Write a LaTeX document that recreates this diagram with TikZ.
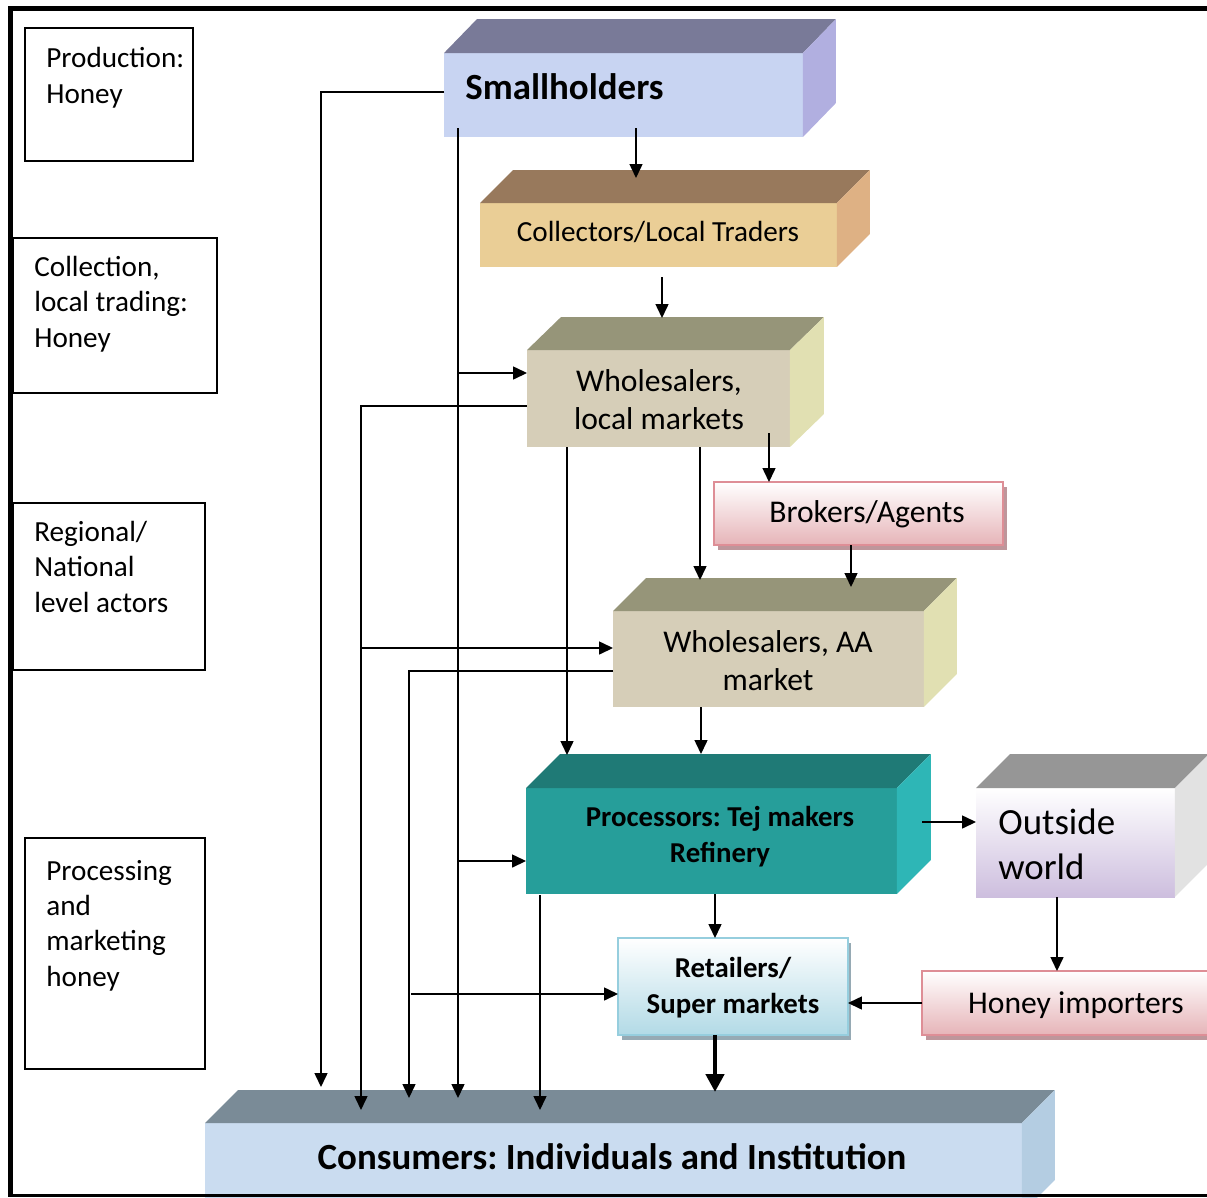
\documentclass[tikz,border=0pt]{standalone}
\usepackage{fontspec}
\setmainfont{Carlito}
\usetikzlibrary{arrows.meta,calc}
\frenchspacing

\definecolor{shFront}{RGB}{200,212,242}
\definecolor{shTop}{RGB}{121,122,152}
\definecolor{shSide}{RGB}{177,175,224}
\definecolor{clFront}{RGB}{234,206,150}
\definecolor{clTop}{RGB}{152,121,92}
\definecolor{clSide}{RGB}{222,177,132}
\definecolor{wsFront}{RGB}{214,206,184}
\definecolor{wsTop}{RGB}{150,149,121}
\definecolor{wsSide}{RGB}{225,224,178}
\definecolor{prFront}{RGB}{38,158,154}
\definecolor{prTop}{RGB}{31,122,118}
\definecolor{prSide}{RGB}{46,182,182}
\definecolor{owFront}{RGB}{205,190,222}
\definecolor{owTop}{RGB}{150,150,150}
\definecolor{owSide}{RGB}{226,226,226}
\definecolor{coFront}{RGB}{202,220,240}
\definecolor{coTop}{RGB}{122,139,151}
\definecolor{coSide}{RGB}{180,205,226}
\definecolor{pinkBot}{RGB}{230,180,184}
\definecolor{pinkLine}{RGB}{222,142,150}
\definecolor{pinkShade}{RGB}{190,150,155}
\definecolor{blueBot}{RGB}{178,218,230}
\definecolor{blueLine}{RGB}{150,206,222}
\definecolor{blueShade}{RGB}{150,170,180}

\begin{document}
\frenchspacing
\begin{tikzpicture}[x=0.02cm, y=-0.02cm,
	face/.style={inner sep=0pt, outer sep=0pt},
	lvlbox/.style={draw, line width=0.85pt, inner sep=0pt},
	lvltxt/.style={inner sep=0pt, align=left, font=\fontsize{16.6}{20}\selectfont},
	midtxt/.style={inner sep=0pt, align=center, font=\fontsize{18}{21.6}\selectfont},
	bigtxt/.style={inner sep=0pt, align=left, font=\fontsize{21}{25.6}\selectfont},
	bigbold/.style={inner sep=0pt, align=center, font=\fontsize{21}{25.6}\selectfont\bfseries},
	boldtxt/.style={inner sep=0pt, align=center, font=\fontsize{16.4}{20}\selectfont\bfseries},
	flow/.style={line width=0.85pt, -{Triangle[length=0.28cm,width=0.26cm]}},
	bigflow/.style={line width=2.6pt, -{Triangle[length=0.36cm,width=0.36cm]}}]
		    \clip (0,0) rectangle (1207,1197);
		    
		    \node [lvlbox, minimum width=3.36cm, minimum height=2.66cm] (L1) at (109,94.5) {};
		    \node [lvlbox, minimum width=4.08cm, minimum height=3.1cm] (L2) at (115,315.5) {};
		    \node [lvlbox, minimum width=3.84cm, minimum height=3.34cm] (L3) at (109,586.5) {};
		    \node [lvlbox, minimum width=3.6cm, minimum height=4.62cm] (L4) at (115,953.5) {};
		    
		    \node [lvltxt, anchor=base west] (L1t) at (46,103) {Production:\\Honey};
		    \node [lvltxt, anchor=base west] (L2t) at (34,347) {Collection,\\local trading:\\Honey};
		    \node [lvltxt, anchor=base west] (L3t) at (34,612) {Regional/\\National\\level actors};
		    \node [lvltxt, anchor=base west] (L4t) at (46,986) {Processing\\and\\marketing\\honey};
		    
		    
		    \node [face, fill=shFront, minimum width=7.18cm, minimum height=1.68cm] (SH) at (623.5,95) {};
		    \fill [shTop] (SH.north west) -- ++(33,-34) -- ($(SH.north east)+(33,-34)$) -- (SH.north east) -- cycle;
		    \fill [shSide] (SH.north east) -- ++(33,-34) -- ($(SH.south east)+(33,-34)$) -- (SH.south east) -- cycle;
		    \node [bigbold, anchor=base west] (SHt) at (465,99) {Smallholders};
		    
		    \node [face, fill=clFront, minimum width=7.14cm, minimum height=1.28cm] (CL) at (658.5,235) {};
		    \fill [clTop] (CL.north west) -- ++(33,-33) -- ($(CL.north east)+(33,-33)$) -- (CL.north east) -- cycle;
		    \fill [clSide] (CL.north east) -- ++(33,-33) -- ($(CL.south east)+(33,-33)$) -- (CL.south east) -- cycle;
		    \node [lvltxt, anchor=base] (CLt) at (658,241) {Collectors/Local Traders};
		    
		    \node [face, fill=wsFront, minimum width=5.26cm, minimum height=1.94cm] (WL) at (658.5,398.5) {};
		    \fill [wsTop] (WL.north west) -- ++(34,-33) -- ($(WL.north east)+(34,-33)$) -- (WL.north east) -- cycle;
		    \fill [wsSide] (WL.north east) -- ++(34,-33) -- ($(WL.south east)+(34,-33)$) -- (WL.south east) -- cycle;
		    \node [midtxt, anchor=base] (WLt) at (659,429) {Wholesalers,\\local markets};
		    
		    \fill [pinkShade] (718,487) rectangle (1007,550);
		    \node [face, draw=pinkLine, line width=1.2pt, top color=white, bottom color=pinkBot, minimum width=5.78cm, minimum height=1.26cm] (BR) at (858.5,513.5) {};
		    \node [midtxt, anchor=base] (BRt) at (867,522) {Brokers/Agents};
		    
		    \node [face, fill=wsFront, minimum width=6.22cm, minimum height=1.92cm] (WA) at (768.5,659) {};
		    \fill [wsTop] (WA.north west) -- ++(33,-33) -- ($(WA.north east)+(33,-33)$) -- (WA.north east) -- cycle;
		    \fill [wsSide] (WA.north east) -- ++(33,-33) -- ($(WA.south east)+(33,-33)$) -- (WA.south east) -- cycle;
		    \node [midtxt, anchor=base] (WAt) at (768,690) {Wholesalers, AA\\market};
		    
		    \node [face, fill=prFront, minimum width=7.42cm, minimum height=2.12cm] (PR) at (711.5,841) {};
		    \fill [prTop] (PR.north west) -- ++(34,-34) -- ($(PR.north east)+(34,-34)$) -- (PR.north east) -- cycle;
		    \fill [prSide] (PR.north east) -- ++(34,-34) -- ($(PR.south east)+(34,-34)$) -- (PR.south east) -- cycle;
		    \node [boldtxt, anchor=base] (PRt) at (720,862) {Processors: Tej makers\\Refinery};
		    
		    \node [face, top color=white, bottom color=owFront, minimum width=3.98cm, minimum height=2.18cm] (OW) at (1075.5,842.5) {};
		    \fill [owTop] (OW.north west) -- ++(34,-34) -- ($(OW.north east)+(34,-34)$) -- (OW.north east) -- cycle;
		    \fill [owSide] (OW.north east) -- ++(34,-34) -- ($(OW.south east)+(34,-34)$) -- (OW.south east) -- cycle;
		    \node [bigtxt, anchor=base west] (OWt) at (998,879) {Outside\\world};
		    
		    \fill [blueShade] (622,943) rectangle (851,1040);
		    \node [face, draw=blueLine, line width=1.2pt, top color=white, bottom color=blueBot, minimum width=4.6cm, minimum height=1.94cm] (RT) at (733,986.5) {};
		    \node [boldtxt, anchor=base] (RTt) at (733,1013) {Retailers/\\Super markets};
		    
		    \fill [pinkShade] (926,976) rectangle (1215,1040);
		    \node [face, draw=pinkLine, line width=1.2pt, top color=white, bottom color=pinkBot, minimum width=5.86cm, minimum height=1.28cm] (HI) at (1068.5,1003) {};
		    \node [midtxt, anchor=base] (HIt) at (1076,1013) {Honey importers};
		    
		    \node [face, fill=coFront, minimum width=16.34cm, minimum height=1.8cm] (CO) at (613.5,1168) {};
		    \fill [coTop] (CO.north west) -- ++(33,-33) -- ($(CO.north east)+(33,-33)$) -- (CO.north east) -- cycle;
		    \fill [coSide] (CO.north east) -- ++(33,-33) -- ($(CO.south east)+(33,-33)$) -- (CO.south east) -- cycle;
		    \node [bigbold, anchor=base] (COt) at (612,1169) {Consumers: Individuals and Institution};
		    
		    
		    \coordinate (P0) at (444,92);
		    \coordinate (P1) at (321,1087);
		    \coordinate (P2) at (458,128);
		    \coordinate (P3) at (458,1098);
		    \coordinate (P4) at (458,373);
		    \coordinate (P5) at (458,861);
		    \coordinate (P6) at (636,128);
		    \coordinate (P7) at (636,178);
		    \coordinate (P8) at (662,277);
		    \coordinate (P9) at (662,318);
		    \coordinate (P10) at (527,406);
		    \coordinate (P11) at (361,1110);
		    \coordinate (P12) at (361,648);
		    \coordinate (P13) at (567,447);
		    \coordinate (P14) at (567,755);
		    \coordinate (P15) at (700,447);
		    \coordinate (P16) at (700,580);
		    \coordinate (P17) at (769,433);
		    \coordinate (P18) at (851,545);
		    \coordinate (P19) at (851,587);
		    \coordinate (P20) at (613,671);
		    \coordinate (P21) at (409,1098);
		    \coordinate (P22) at (411,994);
		    \coordinate (P23) at (701,707);
		    \coordinate (P24) at (701,754);
		    \coordinate (P25) at (922,822);
		    \coordinate (P26) at (715,894);
		    \coordinate (P27) at (540,895);
		    \coordinate (P28) at (540,1110);
		    \coordinate (P29) at (1057,897);
		    \coordinate (P30) at (715,1035);
		    \coordinate (P31) at (715,1092);
		    
			\draw [flow] (P0) -| (P1);
			\draw [flow] (P2) -- (P3);
			\draw [flow] (P4) -- (P4 -| WL.west);
			\draw [flow] (P5) -- (P5 -| PR.west);
			\draw [flow] (P6) -- (P7);
			\draw [flow] (P8) -- (P9);
			\draw [flow] (P10) -| (P11);
			\draw [flow] (P12) -- (P12 -| WA.west);
			\draw [flow] (P13) -- (P14);
			\draw [flow] (P15) -- (P16);
			\draw [flow] (P17) -- (P17 |- BR.north);
			\draw [flow] (P18) -- (P19);
			\draw [flow] (P20) -| (P21);
			\draw [flow] (P22) -- (P22 -| RT.west);
			\draw [flow] (P23) -- (P24);
			\draw [flow] (P25) -- (P25 -| OW.west);
			\draw [flow] (P26) -- (P26 |- RT.north);
			\draw [flow] (P27) -- (P28);
			\draw [flow] (P29) -- (P29 |- HI.north);
			\draw [flow] (HI.west) -- (HI.west -| RT.east);
			\draw [bigflow] (P30) -- (P31);
			
			
			\draw [line width=0.11cm] (8,8.5) -- (1207,8.5);
			\draw [line width=0.11cm] (10.5,6) -- (10.5,1197);
			\draw [line width=0.05cm] (8,1195.5) -- (1207,1195.5);
		\end{tikzpicture}
\end{document}
